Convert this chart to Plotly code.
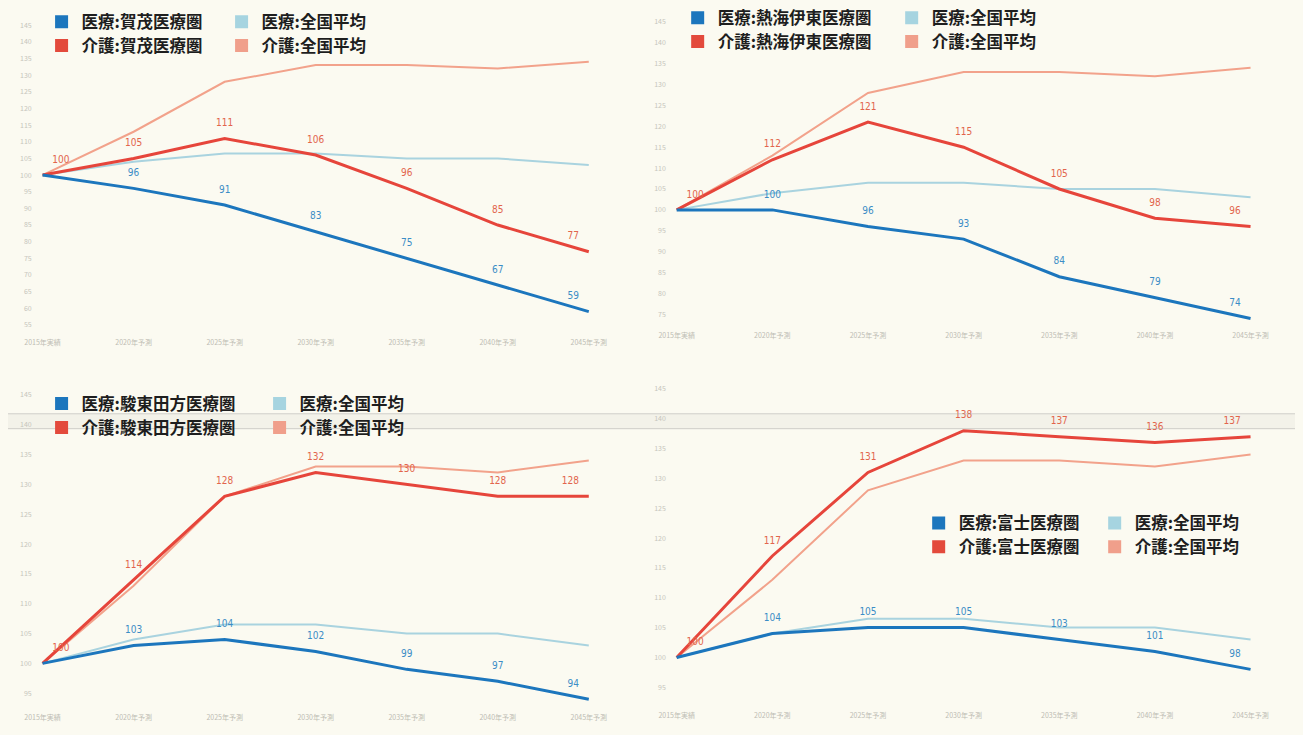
import plotly.graph_objects as go

# ---------------- data ----------------
years = ["2015年実績", "2020年予測", "2025年予測", "2030年予測", "2035年予測", "2040年予測", "2045年予測"]

national_med = [100, 104, 106.5, 106.5, 105, 105, 103]
national_care = [100, 113, 128, 133, 133, 132, 134]

region_names = ["賀茂医療圏", "熱海伊東医療圏", "駿東田方医療圏", "富士医療圏"]
kamo_med = [100, 96, 91, 83, 75, 67, 59]
kamo_care = [100, 105, 111, 106, 96, 85, 77]
atami_med = [100, 100, 96, 93, 84, 79, 74]
atami_care = [100, 112, 121, 115, 105, 98, 96]
sunto_med = [100, 103, 104, 102, 99, 97, 94]
sunto_care = [100, 114, 128, 132, 130, 128, 128]
fuji_med = [100, 104, 105, 105, 103, 101, 98]
fuji_care = [100, 117, 131, 138, 137, 136, 137]

region_med = [kamo_med, atami_med, sunto_med, fuji_med]
region_care = [kamo_care, atami_care, sunto_care, fuji_care]

# ---------------- styling / layout ----------------
W, H = 1303, 735
BG = "#fbfaf1"
C_MED = "#1c76bd"
C_MED_LBL = "#3b8dc6"
C_MED_NAT = "#a9d3df"
C_CARE = "#e6453b"
C_CARE_LBL = "#e2654c"
C_CARE_NAT = "#f2a28b"

# per chart: (x px of first point, x px of last point, y top px, y bottom px, y px of 100, px per unit)
panels = [
    (35, 588, 15, 335, 172, 3.35),
    (677, 1258, 10, 328, 207, 4.2),
    (35, 588, 390, 712, 663, 6.0),
    (677, 1258, 382, 710, 657, 6.0),
]
# legend: (text start col1, text start col2, row1 y, row2 y)
legends = [
    (82, 262, 18, 42),
    (726, 940, 14, 38),
    (82, 300, 402, 426),
    (970, 1146, 522, 546),
]

xi = list(range(len(years)))
fig = go.Figure()
layout = dict(
    width=W, height=H, margin=dict(l=0, r=0, t=0, b=0),
    paper_bgcolor=BG, plot_bgcolor=BG, showlegend=True,
    font=dict(family="Noto Sans CJK JP, Noto Sans, sans-serif"),
)

LBL_FONT = "DejaVu Sans Condensed, DejaVu Sans, sans-serif"
n = len(years)


def positions():
    pos = ["top center"] * n
    pos[0] = "top right"
    pos[-1] = "top left"
    return pos


for i, (x0, x1, yt, yb, y100, ppu) in enumerate(panels):
    k = "" if i == 0 else str(i + 1)
    xa, ya = "x" + k, "y" + k
    step = (x1 - x0) / (n - 1)
    pad = 10
    dx0, dx1 = x0 - pad, x1 + pad
    xr = [-pad / step, (n - 1) + pad / step]
    yr = [100 - (yb - y100) / ppu, 100 + (y100 - yt) / ppu]
    layout["xaxis" + k] = dict(
        domain=[dx0 / W, dx1 / W], range=xr, anchor=ya,
        tickmode="array", tickvals=xi, ticktext=years,
        showgrid=False, zeroline=False, showline=False, ticks="",
        tickfont=dict(size=7, color="#bdbcb3"),
    )
    layout["yaxis" + k] = dict(
        domain=[1 - yb / H, 1 - yt / H], range=yr, anchor=xa,
        dtick=5, showgrid=False, zeroline=False, showline=False, ticks="",
        tickfont=dict(size=7, color="#c6c5bc"),
    )

    common = dict(x=xi, xaxis=xa, yaxis=ya, showlegend=False, cliponaxis=False)
    fig.add_trace(go.Scatter(y=national_care, mode="lines",
                             line=dict(color=C_CARE_NAT, width=2), hoverinfo="skip", **common))
    fig.add_trace(go.Scatter(y=national_med, mode="lines",
                             line=dict(color=C_MED_NAT, width=2), hoverinfo="skip", **common))

    care = region_care[i]
    med = region_med[i]
    fig.add_trace(go.Scatter(
        y=care, mode="lines+markers+text", line=dict(color=C_CARE, width=3),
        marker=dict(size=14, opacity=0),
        text=[str(v) for v in care], textposition=positions(),
        textfont=dict(family=LBL_FONT, size=10, color=C_CARE_LBL), **common))
    fig.add_trace(go.Scatter(
        y=med, mode="lines+markers+text", line=dict(color=C_MED, width=3),
        marker=dict(size=14, opacity=0),
        text=[""] + [str(v) for v in med[1:]], textposition=positions(),
        textfont=dict(family=LBL_FONT, size=10, color=C_MED_LBL), **common))

    # legends (two rows per chart)
    t1, t2, r1, r2 = legends[i]
    lg_a = "legend" if i == 0 else "legend" + str(2 * i + 1)
    lg_b = "legend" + str(2 * i + 2)
    name = region_names[i]
    entries = [
        (lg_a, "医療:" + name, C_MED),
        (lg_a, "医療:全国平均", "#a6d4e0"),
        (lg_b, "介護:" + name, "#e34a3c"),
        (lg_b, "介護:全国平均", "#f09f8b"),
    ]
    for lg, nm, col in entries:
        fig.add_trace(go.Scatter(
            x=[None], y=[None], mode="markers", name=nm, legend=lg,
            marker=dict(symbol="square", size=13, color=col),
            xaxis=xa, yaxis=ya, showlegend=True))
    for lg, ry in ((lg_a, r1), (lg_b, r2)):
        layout[lg] = dict(
            x=(t1 - 48) / W, y=1 - ry / H, xanchor="left", yanchor="middle",
            orientation="h", bgcolor="rgba(0,0,0,0)", borderwidth=0,
            entrywidth=(t2 - t1 - 45), entrywidthmode="pixels",
            font=dict(family="Noto Sans CJK JP", size=16.5, color="#1e1e1e", weight="bold"),
            itemclick=False, itemdoubleclick=False,
        )

# faint scan band across the page
layout["shapes"] = [
    dict(type="rect", xref="paper", yref="paper", x0=0, x1=1,
         y0=1 - 427 / H, y1=1 - 412 / H, fillcolor="rgba(190,190,185,0.12)",
         line=dict(width=0), layer="below"),
    dict(type="line", xref="paper", yref="paper", x0=0, x1=1,
         y0=1 - 412 / H, y1=1 - 412 / H, line=dict(color="rgba(160,160,160,0.45)", width=1)),
    dict(type="line", xref="paper", yref="paper", x0=0, x1=1,
         y0=1 - 427 / H, y1=1 - 427 / H, line=dict(color="rgba(160,160,160,0.45)", width=1)),
]

fig.update_layout(**layout)
fig.write_html("out.html")
